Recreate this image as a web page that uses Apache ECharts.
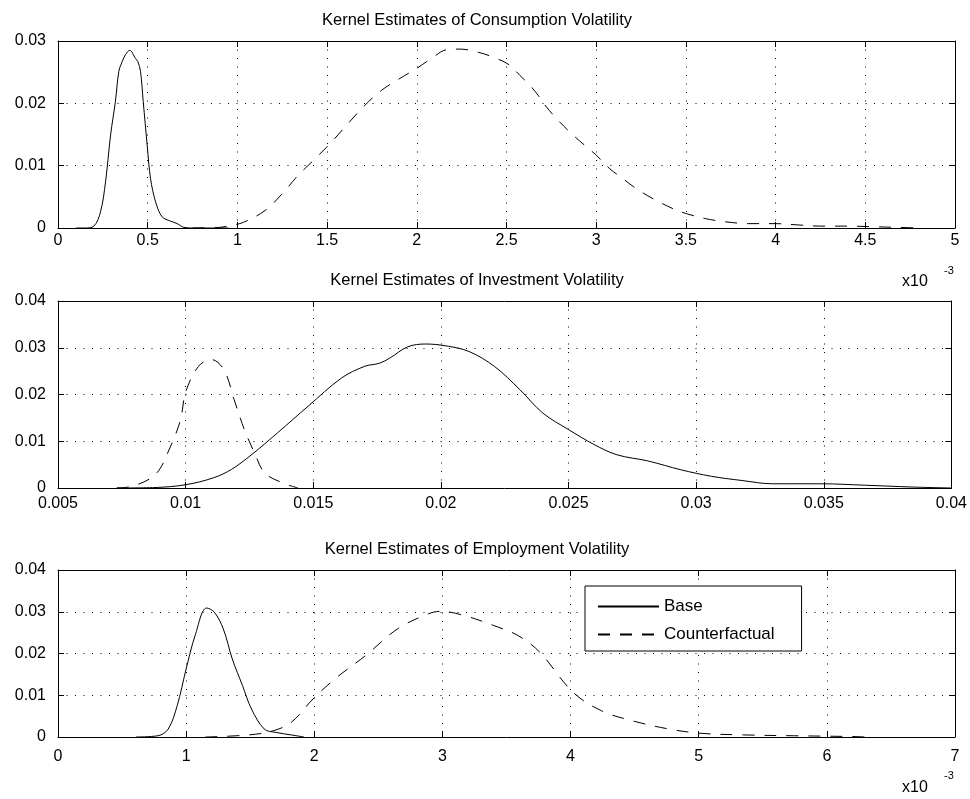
<!DOCTYPE html>
<html>
<head>
<meta charset="utf-8">
<script src="https://cdn.jsdelivr.net/npm/echarts@6/dist/echarts.min.js"></script>
<style>
    html, body { margin: 0; padding: 0; background: #fff; }
    #chart { width: 970px; height: 799px; }
</style>
</head>
<body>
<div id="chart"></div>
<script>
// 核密度曲线，x 轴单位 1e-3（消费、就业），投资为原值
var consBaseX = [0.10, 0.15, 0.20, 0.237, 0.265, 0.293, 0.32, 0.339, 0.358, 0.376, 0.40, 0.432, 0.445, 0.46, 0.475, 0.497, 0.516, 0.544, 0.58, 0.627, 0.665, 0.702, 0.75, 0.95];
var consBaseY = [0, 0, 0.0003, 0.0026, 0.0074, 0.0149, 0.0203, 0.0251, 0.0267, 0.0278, 0.0285, 0.0272, 0.0267, 0.0251, 0.0203, 0.0133, 0.0079, 0.0042, 0.0018, 0.0011, 0.0007, 0.0001, 0, 0];
var consCfX = [0.75, 0.9, 0.96, 1.033, 1.154, 1.247, 1.34, 1.433, 1.525, 1.618, 1.711, 1.804, 1.906, 1.999, 2.082, 2.166, 2.24, 2.342, 2.444, 2.519, 2.574, 2.63, 2.676, 2.723, 2.797, 2.871, 2.955, 3.0, 3.076, 3.15, 3.224, 3.317, 3.428, 3.503, 3.61, 3.72, 3.85, 4.0, 4.12, 4.25, 4.4, 4.55, 4.68, 4.8];
var consCfY = [0, 0.0001, 0.0004, 0.0009, 0.0028, 0.0054, 0.0085, 0.0111, 0.0138, 0.0168, 0.0197, 0.0221, 0.024, 0.0256, 0.0272, 0.0286, 0.0287, 0.0282, 0.0272, 0.0261, 0.0245, 0.0229, 0.0213, 0.0194, 0.017, 0.0149, 0.0128, 0.0117, 0.0095, 0.0079, 0.0063, 0.0047, 0.0031, 0.0023, 0.0015, 0.001, 0.0007, 0.0007, 0.0005, 0.0003, 0.0003, 0.0002, 0.0001, 0];

var invBaseX = [0.0073, 0.0088, 0.0100, 0.0111, 0.0118, 0.0126, 0.0136, 0.0148, 0.0161, 0.0170, 0.0176, 0.0180, 0.0187, 0.0194, 0.0202, 0.0211, 0.0221, 0.0231, 0.0240, 0.0250, 0.0260, 0.0269, 0.0281, 0.0294, 0.0306, 0.0318, 0.0330, 0.0349, 0.0366, 0.0385, 0.0400];
var invBaseY = [0, 0.0001, 0.0007, 0.0022, 0.0040, 0.0072, 0.0118, 0.0175, 0.0235, 0.0260, 0.0267, 0.0278, 0.0302, 0.0308, 0.0304, 0.0292, 0.0260, 0.0210, 0.0160, 0.0125, 0.0093, 0.0071, 0.0058, 0.0039, 0.0025, 0.0016, 0.0009, 0.0009, 0.0006, 0.0002, 0];
var invCfX = [0.0073, 0.0080, 0.00885, 0.0094, 0.0098, 0.0100, 0.0105, 0.0110, 0.0115, 0.0119, 0.0123, 0.0127, 0.0131, 0.0138, 0.0144];
var invCfY = [0, 0.0005, 0.0031, 0.0088, 0.0146, 0.0205, 0.0260, 0.0275, 0.0253, 0.0189, 0.0125, 0.0075, 0.0032, 0.0011, 0];

var empBaseX = [0.61, 0.78, 0.86, 0.93, 1.0, 1.07, 1.16, 1.22, 1.29, 1.36, 1.44, 1.51, 1.61, 1.70, 1.82, 1.92];
var empBaseY = [0, 0.0003, 0.0019, 0.0075, 0.0163, 0.0243, 0.0309, 0.0299, 0.0259, 0.0187, 0.0123, 0.0067, 0.0019, 0.0011, 0.0005, 0];
var empCfX = [1.15, 1.49, 1.68, 1.82, 1.99, 2.16, 2.40, 2.65, 2.89, 2.99, 3.18, 3.40, 3.59, 3.76, 4.02, 4.24, 4.48, 4.77, 5.01, 5.35, 5.74, 6.22, 6.3];
var empCfY = [0, 0.0005, 0.0015, 0.0035, 0.0091, 0.0139, 0.0195, 0.0259, 0.0295, 0.0301, 0.029, 0.0267, 0.0243, 0.0203, 0.0107, 0.0063, 0.0039, 0.0019, 0.0009, 0.0005, 0.0003, 0.0001, 0];

var titles = ['Kernel Estimates of Consumption Volatility', 'Kernel Estimates of Investment Volatility', 'Kernel Estimates of Employment Volatility'];
var seriesNames = ['Base', 'Counterfactual'];
var xRanges = [[0, 5, 0.5], [0.005, 0.04, 0.005], [0, 7, 1]];
var yRanges = [[0, 0.03, 0.01], [0, 0.04, 0.01], [0, 0.04, 0.01]];

var FONT = '"Liberation Sans", Arial, sans-serif';
var grids = [
    {left: 58, top: 41, width: 897, height: 187},
    {left: 58, top: 301, width: 897, height: 187},
    {left: 58, top: 570, width: 897, height: 167}
];
var xLabelMargin = [5, 8, 12];
var titleY = [20, 280, 549];

function zip(xs, ys) {
    return xs.map(function(x, i) { return [x, ys[i]]; });
}

function fmt(v) {
    return String(parseFloat(v.toFixed(4)));
}

var boxLine = {show: true, onZero: false, lineStyle: {color: '#000', width: 1}};
var inTick = {show: true, inside: true, length: 6, lineStyle: {color: '#000', width: 1}};
var dotted = {show: true, lineStyle: {color: '#000', width: 1, type: [1, 7.5]}};

var xAxes = [], yAxes = [];
grids.forEach(function(g, i) {
    var xr = xRanges[i], yr = yRanges[i];
    xAxes.push({
        type: 'value', gridIndex: i, position: 'bottom', min: xr[0], max: xr[1], interval: xr[2],
        axisLine: boxLine, axisTick: inTick, splitLine: dotted,
        axisLabel: {color: '#000', fontSize: 16, fontFamily: FONT, margin: xLabelMargin[i], formatter: fmt, showMinLabel: true, showMaxLabel: true}
    });
    xAxes.push({
        type: 'value', gridIndex: i, position: 'top', min: xr[0], max: xr[1], interval: xr[2],
        axisLine: boxLine, axisTick: inTick, splitLine: {show: false}, axisLabel: {show: false}
    });
    yAxes.push({
        type: 'value', gridIndex: i, position: 'left', min: yr[0], max: yr[1], interval: yr[2],
        axisLine: boxLine, axisTick: inTick, splitLine: dotted,
        axisLabel: {color: '#000', fontSize: 16, fontFamily: FONT, margin: 12, formatter: fmt}
    });
    yAxes.push({
        type: 'value', gridIndex: i, position: 'right', min: yr[0], max: yr[1], interval: yr[2],
        axisLine: boxLine, axisTick: inTick, splitLine: {show: false}, axisLabel: {show: false}
    });
});

function lineSeries(name, data, idx, dashed) {
    return {
        name: name,
        type: 'line',
        xAxisIndex: idx * 2,
        yAxisIndex: idx * 2,
        data: data,
        symbol: 'none',
        smooth: 0.35,
        animation: false,
        lineStyle: {color: '#000', width: 1, type: dashed ? [12, 10] : 'solid'},
        itemStyle: {color: '#000'},
        z: 3
    };
}

var series = [
    lineSeries(seriesNames[0], zip(consBaseX, consBaseY), 0, false),
    lineSeries(seriesNames[1], zip(consCfX, consCfY), 0, true),
    lineSeries(seriesNames[0], zip(invBaseX, invBaseY), 1, false),
    lineSeries(seriesNames[1], zip(invCfX, invCfY), 1, true),
    lineSeries(seriesNames[0], zip(empBaseX, empBaseY), 2, false),
    lineSeries(seriesNames[1], zip(empCfX, empCfY), 2, true)
];

var graphics = titles.map(function(t, i) {
    return {
        type: 'text', x: 477, y: titleY[i], z: 10,
        style: {text: t, font: '16.5px ' + FONT, fill: '#000', align: 'center', verticalAlign: 'middle', textAlign: 'center', textVerticalAlign: 'middle'}
    };
});
// x10^-3 标注
[[282, 271], [788, 776]].forEach(function(p) {
    graphics.push({
        type: 'text', x: 902, y: p[0], z: 10,
        style: {text: 'x10', font: '16px ' + FONT, fill: '#000', align: 'left', verticalAlign: 'middle', textAlign: 'left', textVerticalAlign: 'middle'}
    });
    graphics.push({
        type: 'text', x: 944, y: p[1], z: 10,
        style: {text: '-3', font: '11px ' + FONT, fill: '#000', align: 'left', verticalAlign: 'middle', textAlign: 'left', textVerticalAlign: 'middle'}
    });
});

var option = {
    backgroundColor: '#fff',
    animation: false,
    grid: grids.map(function(g) { return Object.assign({containLabel: false}, g); }),
    xAxis: xAxes,
    yAxis: yAxes,
    legend: {
        data: seriesNames,
        orient: 'vertical',
        left: 585,
        top: 586,
        itemWidth: 61,
        itemHeight: 14,
        itemGap: 11,
        padding: [12, 27, 8, 12],
        borderColor: '#000',
        borderWidth: 1,
        borderRadius: 0,
        backgroundColor: '#fff',
        selectedMode: false,
        itemStyle: {opacity: 0},
        textStyle: {color: '#000', fontSize: 17, fontFamily: FONT},
        z: 10
    },
    graphic: graphics,
    series: series
};

var chart = echarts.init(document.getElementById('chart'), null, {renderer: 'canvas'});
chart.setOption(option);
</script>
</body>
</html>
